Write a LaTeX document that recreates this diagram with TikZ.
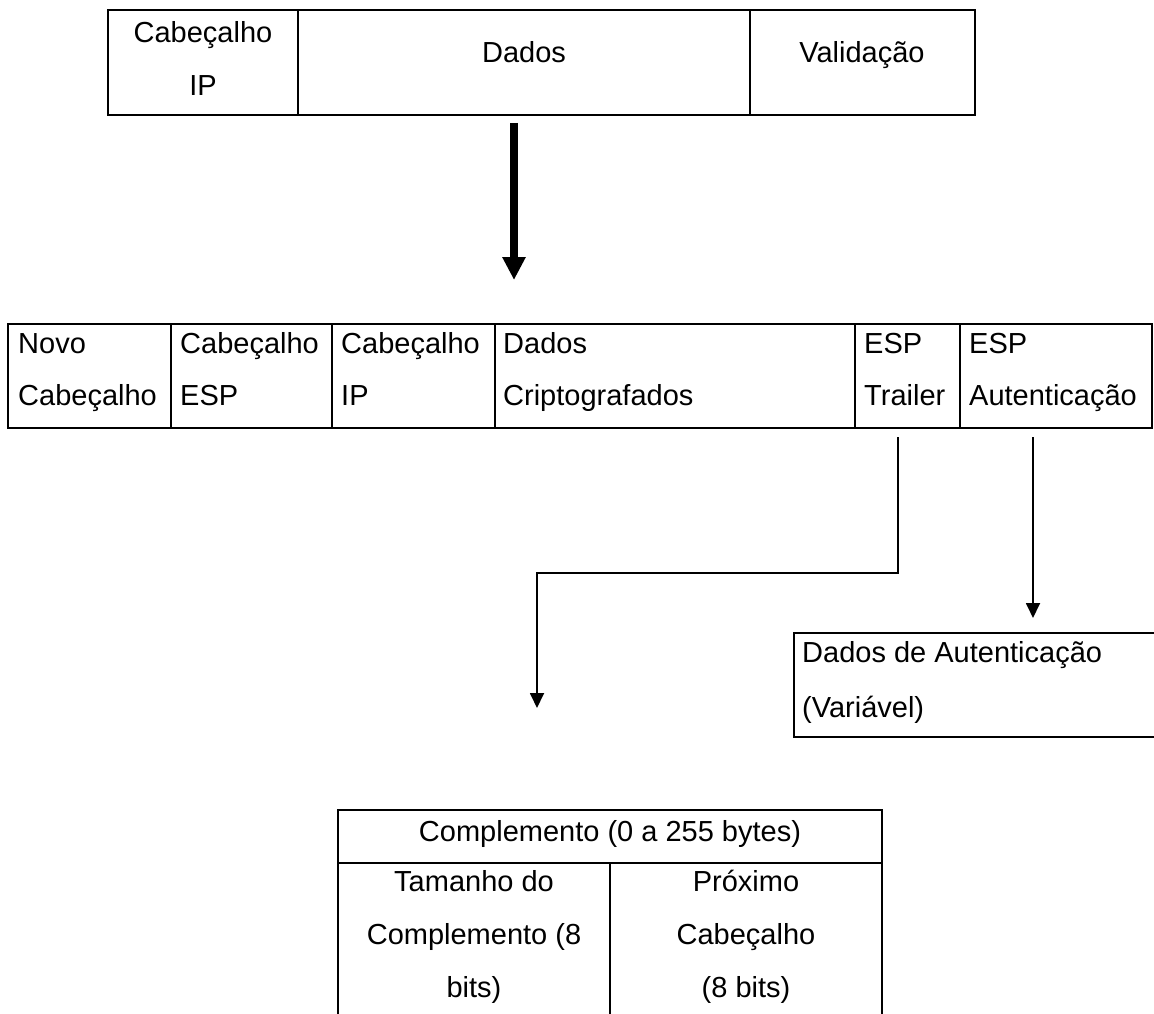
\documentclass[tikz,border=0pt]{standalone}
\usepackage{fontspec}
\setmainfont{Liberation Sans}
\usetikzlibrary{arrows.meta}
\begin{document}
\begin{tikzpicture}[x=1pt,y=-1pt,
  cell/.style={draw,line width=2.6pt,inner sep=0pt,outer sep=0pt,anchor=north west},
  txt/.style={font=\fontsize{29}{35}\selectfont,inner sep=0pt},
  lt/.style={txt,anchor=base west},
  ct/.style={txt,anchor=base},
  conn/.style={line width=1.8pt,line join=miter,-{Triangle[width=14pt,length=15pt]}},
  bigarrow/.style={line width=8pt,-{Triangle[width=22pt,length=23pt]}},
]
\path[use as bounding box] (0,0) rectangle (1154,1014);
\clip (0,0) rectangle (1154,1014);
\fill[white] (0,0) rectangle (1154,1014);

% top table
\node[cell,minimum width=190pt,minimum height=105pt] (ip) at (108,10) {};
\node[cell,minimum width=452pt,minimum height=105pt] (dados) at (298,10) {};
\node[cell,minimum width=225pt,minimum height=105pt] (valid) at (750,10) {};
\node[ct] (ipA) at (203,43) {Cabeçalho};
\node[ct] (ipB) at (203,96) {IP};
\node[ct] (dadosT) at (524,63) {Dados};
\node[ct] (validT) at (862,63) {Validação};

% big arrow
\coordinate (bS) at (514,123);
\coordinate (bE) at (514,280);
\draw[bigarrow] (bS) -- (bE);

% second table
\node[cell,minimum width=163pt,minimum height=104pt] (nc) at (8,324) {};
\node[cell,minimum width=161pt,minimum height=104pt] (ce) at (171,324) {};
\node[cell,minimum width=163pt,minimum height=104pt] (ci) at (332,324) {};
\node[cell,minimum width=360pt,minimum height=104pt] (dc) at (495,324) {};
\node[cell,minimum width=105pt,minimum height=104pt] (et) at (855,324) {};
\node[cell,minimum width=192pt,minimum height=104pt] (ea) at (960,324) {};
\node[lt] (ncA) at (18,353) {Novo};
\node[lt] (ncB) at (18,405) {Cabeçalho};
\node[lt] (ceA) at (180,353) {Cabeçalho};
\node[lt] (ceB) at (180,405) {ESP};
\node[lt] (ciA) at (341,353) {Cabeçalho};
\node[lt] (ciB) at (341,405) {IP};
\node[lt] (dcA) at (503,353) {Dados};
\node[lt] (dcB) at (503,405) {Criptografados};
\node[lt] (etA) at (864,353) {ESP};
\node[lt] (etB) at (864,405) {Trailer};
\node[lt] (eaA) at (969,353) {ESP};
\node[lt] (eaB) at (969,405) {Autenticação};

% connectors
\coordinate (trS) at (898,437);
\coordinate (trB) at (898,573);
\coordinate (trC) at (537,573);
\coordinate (trE) at (537,708);
\draw[conn] (trS) -- (trB) -- (trC) -- (trE);
\coordinate (auS) at (1033,437);
\coordinate (auE) at (1033,618);
\draw[conn] (auS) -- (auE);

% authentication data box
\node[cell,minimum width=380pt,minimum height=104pt] (ad) at (794,633) {};
\node[lt] (adA) at (802,662) {Dados de Autenticação};
\node[lt] (adB) at (802,717) {(Variável)};

% bottom table
\node[cell,minimum width=544pt,minimum height=53pt] (comp) at (338,810) {};
\node[cell,minimum width=272pt,minimum height=180pt] (tam) at (338,863) {};
\node[cell,minimum width=272pt,minimum height=180pt] (prox) at (610,863) {};
\node[ct] (compT) at (610,841) {Complemento (0 a 255 bytes)};
\node[ct] (tamA) at (474,891) {Tamanho do};
\node[ct] (tamB) at (474,944) {Complemento (8};
\node[ct] (tamC) at (474,997) {bits)};
\node[ct] (proxA) at (746,891) {Próximo};
\node[ct] (proxB) at (746,944) {Cabeçalho};
\node[ct] (proxC) at (746,997) {(8 bits)};
\end{tikzpicture}
\end{document}
